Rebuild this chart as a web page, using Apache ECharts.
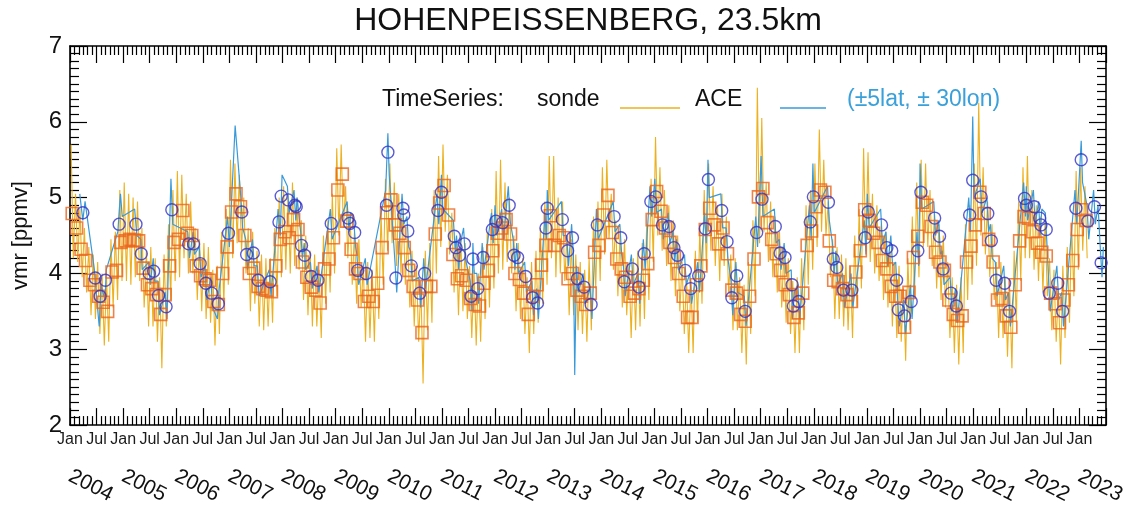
<!DOCTYPE html>
<html><head><meta charset="utf-8">
<script src="https://cdn.jsdelivr.net/npm/echarts@6/dist/echarts.min.js"></script>
<style>html,body{margin:0;padding:0;background:#fff}#c{width:1130px;height:507px}</style>
</head><body><div id="c"></div>
<script>
// ---- data (months counted from Jan 2004) ----
const startYear = 2004;
const monthTicks = ['Jan', 'Jul'];
const titleText = 'HOHENPEISSENBERG, 23.5km';
const yTicks = [2, 3, 4, 5, 6, 7];
// sonde individual profiles: per month one high and one low sample
const sondeHiLo = [
5.70,4.20,5.05,4.15,4.85,3.95,4.60,3.75,4.35,3.45,4.25,3.40,4.15,3.20,4.00,3.05,3.95,3.10,4.45,3.55,4.55,3.65,5.10,3.90,
5.20,3.90,5.05,3.85,5.00,3.95,4.95,3.90,4.60,3.55,4.30,3.30,4.35,3.30,4.20,3.10,3.95,2.75,4.25,3.30,4.65,3.65,5.10,3.90,
5.35,3.95,5.30,4.20,5.05,4.00,4.95,4.00,4.60,3.65,4.45,3.50,4.40,3.40,4.35,3.35,4.05,3.05,4.10,3.20,4.55,3.60,4.85,3.85,
5.50,4.20,5.45,4.40,5.30,4.30,5.00,4.00,4.60,3.50,4.55,3.60,4.30,3.30,4.25,3.25,4.20,3.30,4.20,3.35,4.60,3.70,5.00,3.95,
5.15,4.05,5.05,4.00,5.20,4.10,5.00,4.05,4.70,3.65,4.50,3.45,4.30,3.30,4.25,3.30,4.05,3.15,4.50,3.60,4.70,3.75,5.05,4.00,
5.65,4.50,5.70,4.60,5.15,4.20,4.80,3.85,4.55,3.60,4.45,3.55,4.10,3.10,4.15,3.15,4.05,3.10,4.30,3.40,4.80,3.85,5.25,4.30,
5.45,4.40,5.20,4.10,5.05,4.00,4.85,3.85,4.50,3.55,4.30,3.30,4.10,3.10,3.85,2.55,4.30,3.25,4.40,3.35,5.10,4.00,5.55,4.35,
5.70,4.55,5.30,4.25,4.80,3.75,4.45,3.45,4.50,3.50,4.40,3.40,4.10,3.15,4.05,3.05,4.00,3.10,4.35,3.40,4.55,3.55,4.85,3.80,
5.35,4.00,5.50,4.05,5.20,4.15,5.00,4.00,4.50,3.50,4.40,3.40,4.20,3.20,3.95,2.95,4.15,3.20,4.30,3.35,4.60,3.60,4.95,3.85,
5.55,4.20,5.55,3.95,5.00,4.00,4.95,3.90,4.50,3.45,4.45,3.45,4.25,3.25,4.15,3.20,4.05,3.10,4.20,3.25,4.75,3.80,4.95,3.90,
5.40,4.25,5.50,4.45,5.05,4.05,4.70,3.70,4.55,3.55,4.45,3.45,4.15,3.15,4.20,3.25,4.30,3.30,4.40,3.40,4.65,3.65,5.25,4.15,
5.80,4.50,5.40,4.30,5.10,4.10,4.90,3.90,4.70,3.70,4.50,3.50,4.15,3.20,3.95,2.95,3.90,2.95,4.30,3.35,4.60,3.60,5.10,4.05,
5.45,4.30,5.15,4.10,4.90,3.90,5.05,4.10,4.75,3.75,4.25,3.25,4.20,3.25,3.95,2.95,3.85,2.80,4.15,3.20,4.70,3.70,6.45,4.40,
6.05,4.55,5.20,4.15,4.95,3.95,4.75,3.75,4.55,3.55,4.30,3.35,4.20,3.20,3.90,2.95,3.95,2.95,4.20,3.25,4.90,3.85,5.10,4.05,
5.45,4.35,5.90,4.55,5.50,4.50,4.95,3.95,4.45,3.40,4.35,3.40,4.25,3.30,4.20,3.25,4.10,3.15,4.50,3.55,4.85,3.80,5.65,4.30,
5.60,4.15,5.05,4.00,4.90,3.90,4.65,3.65,4.55,3.55,4.30,3.30,4.15,3.15,4.10,3.10,3.80,2.85,4.20,3.25,4.75,3.70,5.20,3.95,
5.50,4.35,5.45,4.35,5.10,4.10,4.80,3.80,4.65,3.65,4.50,3.55,4.15,3.15,3.95,2.95,3.85,2.80,3.95,2.95,4.65,3.65,4.90,3.85,
5.45,4.10,6.25,4.50,5.40,4.25,4.95,3.95,4.65,3.65,4.15,3.15,4.15,3.15,3.95,2.90,3.80,2.75,4.30,3.35,4.95,3.90,5.40,4.20,
5.55,4.20,5.10,4.05,4.90,3.90,4.75,3.75,4.70,3.70,4.20,3.25,4.05,3.10,3.80,2.80,4.10,3.15,4.35,3.35,4.65,3.70,5.35,4.05,
5.40,4.30,5.15,4.20
];
// sonde monthly means (squares)
const sondeMonthly = [
4.79,4.60,4.32,4.17,3.91,3.85,3.70,3.62,3.50,4.02,4.04,4.41,
4.43,4.45,4.44,4.43,4.07,3.85,3.80,3.72,3.46,3.72,4.10,4.41,
4.45,4.83,4.53,4.50,4.10,3.97,3.93,3.91,3.63,3.59,4.00,4.35,
4.81,5.05,4.88,4.50,4.00,4.07,3.83,3.80,3.78,3.76,4.10,4.45,
4.55,4.47,4.71,4.58,4.15,3.95,3.82,3.78,3.61,4.06,4.19,4.47,
5.10,5.31,4.69,4.32,4.06,4.00,3.63,3.70,3.63,3.87,4.34,4.80,
4.97,4.64,4.53,4.34,4.04,3.83,3.65,3.22,3.83,3.83,4.52,4.93,
5.16,4.77,4.25,3.93,3.97,3.91,3.67,3.59,3.57,3.87,4.04,4.30,
4.53,4.60,4.71,4.52,4.00,3.92,3.74,3.46,3.70,3.85,4.11,4.37,
4.76,4.37,4.50,4.47,3.93,4.00,3.78,3.70,3.59,3.74,4.28,4.37,
4.77,5.03,4.54,4.19,4.06,3.95,3.70,3.74,3.80,3.91,4.13,4.71,
5.08,4.82,4.60,4.41,4.21,4.00,3.70,3.42,3.42,3.85,4.10,4.58,
4.86,4.64,4.39,4.60,4.26,3.78,3.74,3.46,3.37,3.70,4.19,5.01,
5.12,4.67,4.45,4.26,4.04,3.85,3.72,3.42,3.48,3.74,4.37,4.56,
4.88,5.10,5.07,4.43,3.91,3.89,3.80,3.72,3.63,4.02,4.30,4.84,
4.70,4.53,4.41,4.17,4.06,3.83,3.70,3.70,3.29,3.75,4.21,4.49,
4.94,4.90,4.62,4.28,4.15,4.04,3.65,3.46,3.38,3.44,4.15,4.36,
4.64,5.07,4.79,4.45,4.15,3.65,3.67,3.44,3.29,3.85,4.43,4.75,
4.73,4.55,4.40,4.28,4.23,3.74,3.60,3.35,3.65,3.85,4.17,4.58,
4.84,4.70
];
// ACE individual occultations [month, vmr]
const aceLine = [
[2.2,5.05],[2.9,4.70],[3.4,4.95],[5.5,4.05],[5.9,3.75],[6.6,3.30],[7.0,3.85],[7.9,3.65],[8.2,4.05],[10.8,4.55],[11.4,5.05],[11.8,4.75],
[14.6,4.85],[15.1,4.50],[16.0,4.45],[16.3,4.05],[17.8,4.15],[18.1,3.85],[18.8,4.20],[19.1,3.90],[19.9,3.90],[20.2,3.45],[21.5,3.75],[21.9,3.40],
[22.8,5.25],[23.2,4.65],[26.6,4.55],[27.0,4.20],[27.8,4.55],[28.1,4.25],[29.2,4.35],[29.6,3.95],[30.5,4.10],[30.9,3.65],[31.8,3.95],[32.2,3.55],[33.3,3.40],[33.7,3.80],
[35.6,4.75],[36.0,4.35],[37.3,5.95],[38.6,5.00],[39.0,4.60],[39.7,4.45],[40.1,4.05],[41.2,4.45],[41.6,4.10],[42.3,4.10],[42.7,3.70],[45.0,4.05],[45.4,3.70],
[47.0,4.85],[47.5,4.50],[47.9,5.30],[49.1,5.15],[49.5,4.80],[50.6,5.10],[51.0,4.70],[51.3,5.00],[52.1,4.55],[52.5,4.20],[52.9,4.40],[53.2,4.05],[54.3,4.15],[54.7,3.80],[55.8,4.10],[56.2,3.75],
[58.8,4.85],[59.2,4.45],[62.6,4.95],[63.0,4.55],[63.4,4.80],[64.1,4.70],[64.5,4.35],[64.8,4.25],[65.2,3.85],[66.7,4.20],[67.1,3.85],
[71.3,5.10],[71.8,5.85],[72.1,5.30],[73.4,4.15],[73.8,3.75],[75.0,5.05],[75.4,4.65],[76.1,4.75],[76.5,4.35],[76.9,4.30],[77.3,3.90],[78.8,3.95],[79.2,3.55],[79.9,4.20],[80.3,3.80],
[82.9,5.05],[83.3,4.65],[83.9,5.30],[84.2,4.85],[86.6,4.70],[87.0,4.30],[87.3,4.50],[87.8,4.05],[88.2,4.40],[88.9,4.60],[89.3,4.20],[90.4,3.90],[90.8,3.50],[91.0,4.40],[91.3,4.00],[91.9,4.00],[92.3,3.60],
[93.1,4.40],[93.5,4.05],[95.2,4.80],[95.6,4.40],[96.0,4.90],[96.4,4.50],[97.5,4.85],[97.9,4.45],[99.0,5.15],[99.4,4.70],[100.1,4.45],[100.5,4.05],[100.9,4.40],[101.3,4.00],[102.7,4.15],[103.1,3.75],[104.3,3.90],[104.7,3.45],[105.4,3.80],[105.8,3.40],
[107.3,4.80],[107.6,4.45],[107.8,5.10],[108.1,4.70],[111.0,4.95],[111.4,4.50],[112.2,4.50],[112.6,4.10],[113.3,4.65],[113.7,4.25],[114.0,2.66],[114.4,4.10],[114.8,3.75],[115.9,4.00],[116.3,3.60],[117.5,3.80],[117.9,3.40],
[118.9,4.85],[119.3,4.45],[122.7,4.95],[123.1,4.55],[124.2,4.65],[124.6,4.25],[125.0,4.10],[125.4,3.70],[126.8,4.25],[127.2,3.85],[128.3,4.00],[128.7,3.60],[129.5,4.45],[129.9,4.05],
[131.0,5.15],[131.4,4.75],[132.1,5.25],[132.5,4.80],[133.6,4.85],[134.0,4.45],[135.1,4.80],[135.5,4.40],[136.2,4.55],[136.6,4.15],[137.0,4.45],[137.4,4.05],[138.8,4.25],[139.2,3.85],[140.0,4.00],[140.4,3.60],
[141.8,4.15],[142.2,3.75],[143.3,4.80],[143.7,4.40],[144.1,5.50],[144.4,5.00],[147.0,5.05],[147.4,4.60],[148.2,4.60],[148.6,4.20],[149.3,3.90],[149.7,3.45],[150.4,4.15],[150.8,3.75],[152.3,3.70],[152.7,3.30],
[154.9,4.75],[155.3,4.35],[156.1,5.55],[156.5,4.75],[159.1,4.85],[159.5,4.40],[160.2,4.45],[160.6,4.05],[161.3,4.40],[161.7,4.00],[162.9,4.05],[163.2,3.40],[163.6,3.75],[164.4,3.85],[164.8,3.40],
[167.0,4.90],[167.4,4.45],[167.8,5.45],[168.1,4.80],[171.1,5.15],[171.5,4.70],[172.2,4.40],[172.6,4.00],[173.0,4.30],[173.4,3.85],[174.5,4.00],[174.9,3.55],[176.4,4.00],[176.8,3.55],
[179.4,4.70],[179.8,4.25],[180.1,5.05],[180.5,4.60],[183.1,4.85],[183.5,4.40],[184.3,4.55],[184.7,4.10],[185.4,4.50],[185.8,4.10],[186.5,4.15],[186.9,3.70],[187.3,3.30],[188.3,3.65],[188.7,3.20],[189.8,3.85],[190.2,3.40],
[191.3,4.55],[191.7,4.10],[192.0,5.45],[192.4,4.85],[195.1,4.95],[195.5,4.50],[196.2,4.70],[196.6,4.25],[197.0,4.30],[197.4,3.85],[198.8,3.95],[199.2,3.50],[200.0,3.80],[200.4,3.35],
[203.0,5.00],[203.4,4.55],[203.9,6.07],[204.2,5.00],[205.6,5.25],[206.0,4.80],[207.1,5.00],[207.5,4.55],[207.9,4.65],[208.3,4.20],[209.0,4.15],[209.4,3.70],[210.9,4.10],[211.3,3.65],[212.0,3.75],[212.4,3.30],
[215.4,5.20],[215.8,4.75],[216.0,5.15],[216.3,4.70],[217.6,5.10],[218.0,4.65],[218.8,4.95],[219.1,4.50],[219.5,4.85],[220.3,4.80],[220.7,4.35],[221.0,3.95],[221.4,3.50],[222.9,4.10],[223.3,3.65],[224.0,3.75],[224.4,3.30],
[227.0,5.10],[227.4,4.65],[228.4,5.75],[228.7,5.20],[229.7,4.90],[230.1,4.45],[231.2,5.10],[231.6,4.65],[232.2,4.90],[232.7,4.35],[233.1,3.95],[233.4,4.35]
];
// ACE monthly means (circles) [month, vmr]
const aceMonthly = [
[2.9,4.80],[5.7,3.94],[6.8,3.70],[8.0,3.91],[11.1,4.65],[14.9,4.65],[16.1,4.26],[17.9,4.00],[18.9,4.03],[20.0,3.71],[21.7,3.56],[23.0,4.84],
[26.8,4.39],[27.9,4.39],[29.4,4.13],[30.7,3.87],[32.0,3.74],[33.5,3.60],[35.8,4.53],[38.8,4.81],[39.9,4.25],[41.4,4.27],[42.5,3.91],[45.2,3.89],
[47.2,4.68],[47.7,5.02],[49.3,4.97],[50.8,4.90],[51.1,4.88],[52.3,4.37],[53.0,4.24],[54.5,3.96],[56.0,3.91],[59.0,4.66],[62.8,4.73],[63.2,4.66],
[64.3,4.54],[65.0,4.04],[66.9,4.00],[71.5,4.90],[71.8,5.60],[73.6,3.94],[75.2,4.86],[75.4,4.77],[76.3,4.56],[77.1,4.10],[79.0,3.74],[80.1,4.00],
[83.1,4.83],[83.9,5.07],[86.8,4.49],[87.2,4.34],[88.0,4.24],[89.1,4.39],[90.6,3.70],[91.0,4.19],[92.1,3.80],[93.3,4.21],[95.4,4.58],[96.2,4.69],
[97.7,4.67],[99.2,4.90],[100.3,4.24],[101.1,4.21],[102.9,3.96],[104.5,3.68],[105.6,3.61],[107.5,4.60],[107.8,4.86],[111.2,4.71],[112.4,4.30],[113.5,4.47],
[114.6,3.93],[116.1,3.82],[117.7,3.59],[119.1,4.64],[122.9,4.75],[124.4,4.47],[125.2,3.89],[127.0,4.06],[128.5,3.82],[129.7,4.26],[131.2,4.95],[132.3,5.01],
[133.8,4.64],[135.3,4.62],[136.4,4.34],[137.2,4.24],[139.0,4.04],[140.2,3.80],[142.0,3.97],[143.5,4.59],[144.2,5.24],[147.2,4.83],[148.4,4.42],[149.5,3.68],
[150.6,3.97],[152.5,3.50],[155.1,4.54],[156.3,4.98],[159.3,4.62],[160.4,4.27],[161.5,4.21],[163.1,3.85],[163.4,3.57],[164.6,3.63],[167.2,4.68],[167.9,5.01],
[171.3,4.94],[172.4,4.19],[173.2,4.08],[174.7,3.78],[176.6,3.78],[179.6,4.47],[180.3,4.81],[183.3,4.64],[184.5,4.34],[185.6,4.30],[186.7,3.91],[187.1,3.52],
[188.5,3.44],[190.0,3.63],[191.5,4.30],[192.2,5.07],[195.3,4.73],[196.4,4.49],[197.2,4.06],[199.0,3.74],[200.2,3.57],[203.2,4.77],[203.9,5.23],[205.8,5.01],
[207.3,4.79],[208.1,4.43],[209.2,3.91],[211.1,3.87],[212.2,3.50],[215.6,4.99],[216.0,4.90],[217.8,4.88],[219.0,4.73],[219.3,4.64],[220.5,4.58],[221.2,3.74],
[223.1,3.87],[224.2,3.50],[227.2,4.86],[228.4,5.50],[229.9,4.69],[231.4,4.88],[232.9,4.14]
];

// ---- build ----
const FONT = "'Liberation Sans', Arial, Helvetica, sans-serif";
const C_SONDE = '#EDB120', C_ACE = '#3A9AD9', C_SQ = '#EA641C', C_CIRC = '#3232C6';
const sondeLineData = sondeHiLo.map((v, i) => [Math.floor(i / 2) + (i % 2 ? 0.75 : 0.25), v]);
const squareData = sondeMonthly.map((v, k) => [k + 0.5, v]);
const X_MAX = 234;

const axLine = {show: true, onZero: false, lineStyle: {color: '#000', width: 1.6}};
const tickStyle = {color: '#000', width: 1.2};
const xCommon = {type: 'value', min: 0, max: X_MAX, interval: 6, splitLine: {show: false}, minorSplitLine: {show: false}};
const yCommon = {type: 'value', min: yTicks[0], max: yTicks[yTicks.length - 1], interval: 1, splitLine: {show: false}, minorSplitLine: {show: false}};

const chart = echarts.init(document.getElementById('c'), null, {renderer: 'canvas'});
chart.setOption({
  animation: false,
  backgroundColor: '#fff',
  grid: {left: 70, right: 24, top: 46, bottom: 74, containLabel: false},
  xAxis: [
    Object.assign({}, xCommon, {
      position: 'bottom', axisLine: axLine,
      axisTick: {show: true, inside: true, length: 17, lineStyle: tickStyle},
      minorTick: {show: true, splitNumber: 6, length: 9, lineStyle: tickStyle},
      axisLabel: {show: true, margin: 7, fontSize: 16, color: '#1a1a1a', fontFamily: FONT,
        formatter: v => (v % 12 === 0 && v < X_MAX) ? monthTicks[0] : ((v % 12 === 6 && v < X_MAX) ? monthTicks[1] : '')}
    }),
    Object.assign({}, xCommon, {
      position: 'top', axisLine: axLine,
      axisTick: {show: true, inside: true, length: 17, lineStyle: tickStyle},
      minorTick: {show: true, splitNumber: 6, length: 9, lineStyle: tickStyle},
      axisLabel: {show: false}
    }),
    Object.assign({}, xCommon, {
      interval: 12, position: 'bottom', offset: 40,
      axisLine: {show: false}, axisTick: {show: false}, minorTick: {show: false},
      axisLabel: {show: true, rotate: -27, margin: 10, fontSize: 21, color: '#111', fontFamily: FONT,
        formatter: v => (v % 12 === 0) ? String(startYear + v / 12) : ''}
    })
  ],
  yAxis: [
    Object.assign({}, yCommon, {
      position: 'left', axisLine: axLine,
      axisTick: {show: true, inside: true, length: 17, lineStyle: tickStyle},
      minorTick: {show: true, splitNumber: 10, length: 9, lineStyle: tickStyle},
      axisLabel: {show: true, margin: 8, fontSize: 24, color: '#111', fontFamily: FONT},
      name: 'vmr [ppmv]', nameLocation: 'middle', nameGap: 38,
      nameTextStyle: {fontSize: 22, color: '#111', fontFamily: FONT}
    }),
    Object.assign({}, yCommon, {
      position: 'right', axisLine: axLine,
      axisTick: {show: true, inside: true, length: 17, lineStyle: tickStyle},
      minorTick: {show: true, splitNumber: 10, length: 9, lineStyle: tickStyle},
      axisLabel: {show: false}
    })
  ],
  series: [
    {type: 'line', name: 'sonde', data: sondeLineData, xAxisIndex: 0, yAxisIndex: 0, showSymbol: false, symbol: 'none',
      lineStyle: {color: C_SONDE, width: 1.1}, z: 2, clip: true},
    {type: 'line', name: 'ACE', data: aceLine, xAxisIndex: 0, yAxisIndex: 0, showSymbol: false, symbol: 'none',
      lineStyle: {color: C_ACE, width: 1.2}, z: 3, clip: true},
    {type: 'scatter', name: 'sonde monthly', data: squareData, xAxisIndex: 0, yAxisIndex: 0, symbol: 'rect', symbolSize: 12,
      itemStyle: {color: 'rgba(0,0,0,0)', borderColor: C_SQ, borderWidth: 1.6}, z: 4},
    {type: 'scatter', name: 'ACE monthly', data: aceMonthly, xAxisIndex: 0, yAxisIndex: 0, symbol: 'circle', symbolSize: 12,
      itemStyle: {color: 'rgba(0,0,0,0)', borderColor: C_CIRC, borderWidth: 1.4}, z: 5}
  ],
  graphic: [
    {type: 'text', x: 588, y: 21, z: 10, style: {text: titleText, fontSize: 32, fontFamily: FONT, fill: '#111', align: 'center', verticalAlign: 'middle'}},
    {type: 'text', x: 382, y: 100, z: 10, style: {text: 'TimeSeries:', fontSize: 23, fontFamily: FONT, fill: '#111', verticalAlign: 'middle'}},
    {type: 'text', x: 537, y: 100, z: 10, style: {text: 'sonde', fontSize: 23, fontFamily: FONT, fill: '#111', verticalAlign: 'middle'}},
    {type: 'line', z: 10, shape: {x1: 620, y1: 108, x2: 680, y2: 108}, style: {stroke: C_SONDE, lineWidth: 1.6}},
    {type: 'text', x: 695, y: 100, z: 10, style: {text: 'ACE', fontSize: 23, fontFamily: FONT, fill: '#111', verticalAlign: 'middle'}},
    {type: 'line', z: 10, shape: {x1: 780, y1: 108, x2: 826, y2: 108}, style: {stroke: C_ACE, lineWidth: 1.6}},
    {type: 'text', x: 847, y: 100, z: 10, style: {text: '(\u00B15lat, \u00B1 30lon)', fontSize: 23, fontFamily: FONT, fill: '#3AA0DA', verticalAlign: 'middle'}}
  ]
});
</script></body></html>
